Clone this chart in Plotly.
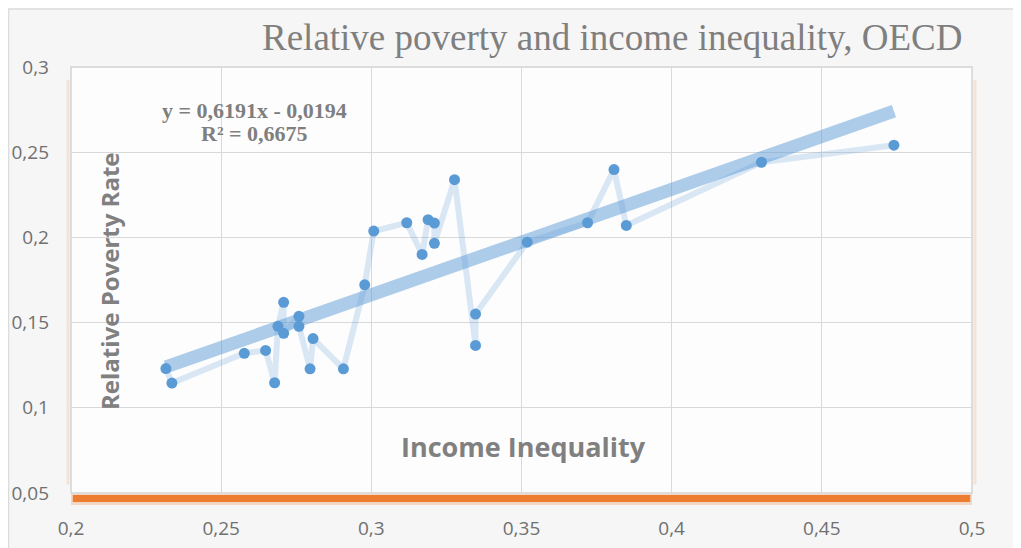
import plotly.graph_objects as go

# ---- data ----
income_inequality = [0.2316, 0.2336, 0.2577, 0.2648, 0.2678, 0.2689, 0.2708, 0.2708,
                     0.2759, 0.2759, 0.2796, 0.2806, 0.2907, 0.2978, 0.3008, 0.3118,
                     0.3169, 0.3189, 0.3210, 0.3210, 0.3277, 0.3347, 0.3347, 0.3519,
                     0.3720, 0.3808, 0.3849, 0.4299, 0.4740]
poverty_rate = [0.1230, 0.1145, 0.1320, 0.1337, 0.1147, 0.1478, 0.1619, 0.1437,
                0.1537, 0.1478, 0.1229, 0.1406, 0.1229, 0.1722, 0.2037, 0.2086,
                0.1900, 0.2104, 0.2084, 0.1965, 0.2339, 0.1366, 0.1550, 0.1972,
                0.2086, 0.2398, 0.2070, 0.2441, 0.2541]

trend_slope = 0.6191
trend_intercept = -0.0194
trend_x = [min(income_inequality), max(income_inequality)]
trend_y = [trend_slope * v + trend_intercept for v in trend_x]

x_ticks = [0.2, 0.25, 0.3, 0.35, 0.4, 0.45, 0.5]
x_tick_text = ["0,2", "0,25", "0,3", "0,35", "0,4", "0,45", "0,5"]
y_ticks = [0.05, 0.1, 0.15, 0.2, 0.25, 0.3]
y_tick_text = ["0,05", "0,1", "0,15", "0,2", "0,25", "0,3"]

title_text = "Relative poverty and income inequality, OECD"
equation_line1 = "y = 0,6191x - 0,0194"
equation_line2 = "R² = 0,6675"
x_title = "Income Inequality"
y_title = "Relative Poverty Rate"

# ---- figure ----
# page body has an 8px margin, so the figure starts at page (8, 8)
OFF = 8
W, H = 1021 - OFF, 548 - OFF
ML, MR, MT, MB = 71 - OFF, 49, 67 - OFF, 55
PW, PH = W - ML - MR, H - MT - MB

def px_x(p):
    """page pixel x -> paper coordinate"""
    return (p - OFF - ML) / PW

def px_y(p):
    """page pixel y -> paper coordinate"""
    return 1 - (p - OFF - MT) / PH

fig = go.Figure()

fig.add_trace(go.Scatter(
    x=trend_x, y=trend_y, mode="lines",
    line=dict(color="rgba(91,155,213,0.5)", width=13),
    hoverinfo="skip", showlegend=False))

fig.add_trace(go.Scatter(
    x=income_inequality, y=poverty_rate, mode="lines+markers",
    line=dict(color="rgba(91,155,213,0.22)", width=6),
    marker=dict(color="#5b9bd5", size=11),
    showlegend=False))

grid = "#d9d9d9"
tick_font = dict(family="Open Sans", size=19, color="#707070")

fig.update_xaxes(range=[0.2, 0.5], tickvals=x_ticks, ticktext=x_tick_text,
                 showgrid=True, gridcolor=grid, gridwidth=1, zeroline=False,
                 showline=False, ticks="", tickfont=tick_font, ticklabelstandoff=22,
                 automargin=False)
fig.update_yaxes(range=[0.05, 0.3], tickvals=y_ticks, ticktext=y_tick_text,
                 showgrid=True, gridcolor=grid, gridwidth=1, zeroline=False,
                 showline=False, ticks="", tickfont=tick_font, ticklabelstandoff=21,
                 automargin=False)

shapes = []
# plot box border (top / sides)
shapes.append(dict(type="rect", xref="paper", yref="paper", x0=0, x1=1, y0=0, y1=1,
                   line=dict(color="#d4d4d4", width=1.5), layer="above"))
# faint orange glow on sides
for xs in (0, 1):
    off = -3 if xs == 0 else 3
    shapes.append(dict(type="line", xref="paper", yref="paper",
                       xsizemode="pixel", xanchor=xs, x0=off, x1=off, y0=0.02, y1=0.97,
                       line=dict(color="rgba(237,125,49,0.15)", width=3), layer="above"))
# orange bottom bar with shadow
shapes.append(dict(type="rect", xref="paper", yref="paper",
                   ysizemode="pixel", yanchor=0, y0=-12, y1=-1, x0=0.0, x1=1.0,
                   line=dict(width=0), fillcolor="rgba(237,125,49,0.25)", layer="above"))
shapes.append(dict(type="rect", xref="paper", yref="paper",
                   ysizemode="pixel", yanchor=0, y0=-9, y1=-2, x0=0.002, x1=0.998,
                   line=dict(width=0), fillcolor="#ed7d31", layer="above"))
# outer frame (left & top edges of the chart area)
shapes.append(dict(type="line", xref="paper", yref="paper",
                   x0=px_x(8.5), x1=px_x(8.5), y0=px_y(560), y1=px_y(9),
                   line=dict(color="#dcdcdc", width=1.5)))
shapes.append(dict(type="line", xref="paper", yref="paper",
                   x0=px_x(8), x1=px_x(1040), y0=px_y(9), y1=px_y(9),
                   line=dict(color="#dcdcdc", width=1.5)))

eq_font = dict(family="Liberation Serif", size=22, color="#7f7f7f")
annotations = [
    dict(text=title_text, xref="paper", yref="paper", x=px_x(964), y=px_y(37),
         xanchor="right", yanchor="middle", showarrow=False,
         font=dict(family="Liberation Serif", size=37, color="#7f7f7f")),
    dict(text="<b>" + equation_line1 + "</b>", xref="paper", yref="paper",
         x=px_x(254), y=px_y(110), xanchor="center", yanchor="middle",
         showarrow=False, font=eq_font),
    dict(text="<b>" + equation_line2 + "</b>", xref="paper", yref="paper",
         x=px_x(254), y=px_y(133), xanchor="center", yanchor="middle",
         showarrow=False, font=eq_font),
    dict(text="<b>" + x_title + "</b>", xref="paper", yref="paper", x=px_x(523), y=px_y(446),
         xanchor="center", yanchor="middle", showarrow=False,
         font=dict(family="Open Sans", size=27, color="#808080")),
    dict(text="<b>" + y_title + "</b>", xref="paper", yref="paper", x=px_x(109), y=px_y(281),
         xanchor="center", yanchor="middle", showarrow=False, textangle=-90,
         font=dict(family="Open Sans", size=24, color="#808080")),
]

fig.update_layout(
    width=W, height=H,
    margin=dict(l=ML, r=MR, t=MT, b=MB, pad=0),
    paper_bgcolor="#f6f6f6", plot_bgcolor="#fdfdfd",
    shapes=shapes, annotations=annotations,
    showlegend=False,
)

fig.write_html("out.html")
